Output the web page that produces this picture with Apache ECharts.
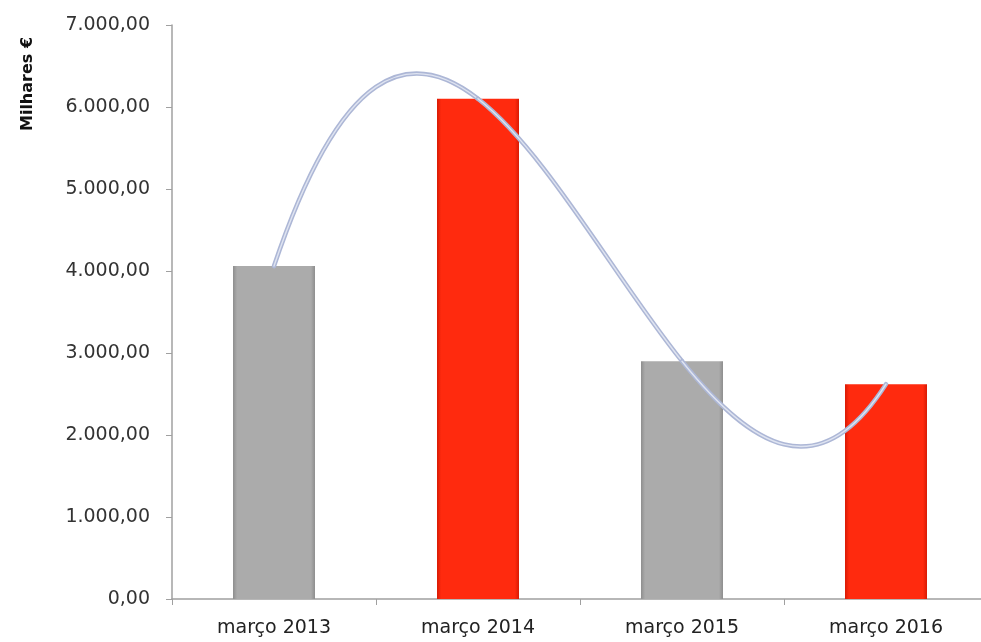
<!DOCTYPE html>
<html>
<head>
<meta charset="utf-8">
<script src="https://cdn.jsdelivr.net/npm/echarts@6/dist/echarts.min.js"></script>
<style>
html,body{margin:0;padding:0;background:#fff;}
#chart{width:981px;height:642px;}
</style>
</head>
<body>
<div id="chart"></div>
<script>
const categories = ['março 2013', 'março 2014', 'março 2015', 'março 2016'];
const values = [4060, 6100, 2900, 2620];
const barColors = ['gray', 'red', 'gray', 'red'];
const yTicks = { min: 0, max: 7000, interval: 1000 };
const yAxisTitle = 'Milhares €';

const palette = {
  gray: { edge: '#8e8e8e', mid: '#ababab' },
  red: { edge: '#d81a04', mid: '#ff2a0e' }
};

function fmt(v) {
  const s = Math.round(v).toString().replace(/\B(?=(\d{3})+(?!\d))/g, '.');
  return s + ',00';
}

// derivative of the polynomial interpolant through all points, at each node (x = index)
function nodeSlopes(ys) {
  const n = ys.length, d = [];
  for (let j = 0; j < n; j++) {
    let s = 0;
    for (let k = 0; k < n; k++) {
      let lk;
      if (k === j) {
        lk = 0;
        for (let m = 0; m < n; m++) if (m !== k) lk += 1 / (k - m);
      } else {
        let num = 1, den = 1;
        for (let m = 0; m < n; m++) {
          if (m === k) continue;
          den *= (k - m);
          if (m !== j) num *= (j - m);
        }
        lk = num / den;
      }
      s += ys[k] * lk;
    }
    d.push(s);
  }
  return d;
}
const slopes = nodeSlopes(values);

function curveSegment(params, api) {
  const i = params.dataIndex;
  if (i >= values.length - 1) return null;
  const p0 = api.coord([i, values[i]]);
  const p1 = api.coord([i + 1, values[i + 1]]);
  const c1y = api.coord([i, values[i] + slopes[i] / 3])[1];
  const c2y = api.coord([i + 1, values[i + 1] - slopes[i + 1] / 3])[1];
  const c1x = p0[0] + (p1[0] - p0[0]) / 3;
  const c2x = p0[0] + 2 * (p1[0] - p0[0]) / 3;
  const d = 'M' + p0[0] + ' ' + p0[1] + ' C' + c1x + ' ' + c1y + ' ' + c2x + ' ' + c2y + ' ' + p1[0] + ' ' + p1[1];
  return {
    type: 'group',
    children: [
      { type: 'path', shape: { pathData: d }, style: { stroke: '#adb7d6', lineWidth: 4.5, fill: null, lineCap: 'round' } },
      { type: 'path', shape: { pathData: d }, style: { stroke: '#dfe4f1', lineWidth: 1.4, fill: null, lineCap: 'round' } }
    ]
  };
}

const chart = echarts.init(document.getElementById('chart'));
chart.setOption({
  animation: false,
  backgroundColor: '#ffffff',
  grid: { left: 172, right: -7, top: 25, bottom: 43, containLabel: false, outerBoundsMode: 'none' },
  xAxis: {
    type: 'category',
    data: categories,
    axisLine: { lineStyle: { color: '#a0a0a0', width: 1.5 } },
    axisTick: { show: true, length: 6, lineStyle: { color: '#a0a0a0' } },
    axisLabel: { color: '#222', fontSize: 19, fontFamily: 'DejaVu Sans', margin: 20 }
  },
  yAxis: {
    type: 'value',
    min: yTicks.min, max: yTicks.max, interval: yTicks.interval,
    axisLine: { show: true, lineStyle: { color: '#a0a0a0', width: 1.5 } },
    axisTick: { show: true, length: 6, lineStyle: { color: '#a0a0a0' } },
    splitLine: { show: false },
    axisLabel: { color: '#333', fontSize: 19, fontFamily: 'DejaVu Sans', margin: 22, formatter: fmt }
  },
  graphic: [{
    type: 'text',
    x: 28, y: 84,
    rotation: Math.PI / 2,
    style: {
      text: yAxisTitle,
      fontSize: 16, fontWeight: 'bold', fontFamily: 'DejaVu Sans',
      fill: '#111', align: 'center', verticalAlign: 'middle'
    }
  }],
  series: [{
    type: 'bar',
    barWidth: 82,
    data: values.map((v, i) => {
      const p = palette[barColors[i]];
      return {
        value: v,
        itemStyle: {
          color: new echarts.graphic.LinearGradient(0, 0, 1, 0, [
            { offset: 0, color: p.edge },
            { offset: 0.05, color: p.mid },
            { offset: 0.95, color: p.mid },
            { offset: 1, color: p.edge }
          ])
        }
      };
    }),
    z: 2
  }, {
    type: 'custom',
    data: values.map((v, i) => [i, v]),
    renderItem: curveSegment,
    clip: false,
    z: 3
  }]
});
</script>
</body>
</html>
